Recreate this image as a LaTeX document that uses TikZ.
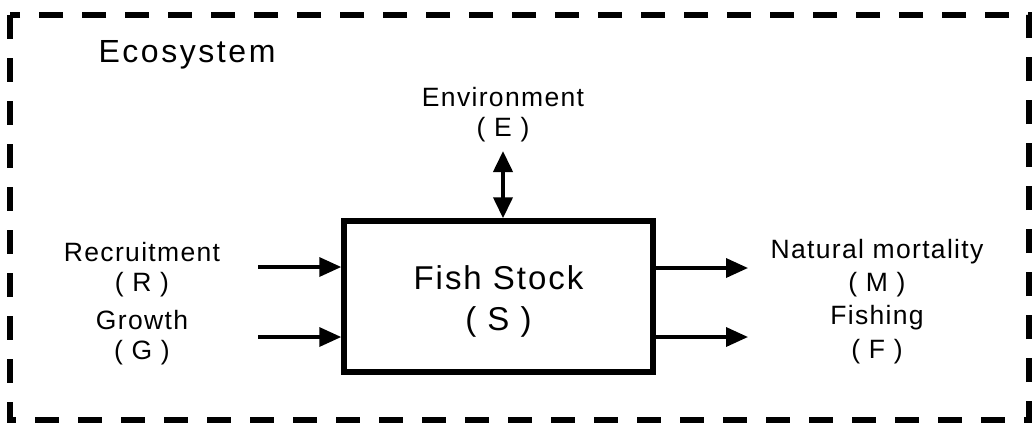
\documentclass[tikz,border=0pt]{standalone}
\usepackage{fontspec}
\setmainfont{Liberation Sans}[LetterSpace=5]
\usetikzlibrary{arrows.meta}
\tikzset{
  frame/.style={line width=5.5pt, dash pattern=on 24pt off 19pt},
  stockbox/.style={draw, line width=5.5pt, minimum width=309pt, minimum height=151pt, inner sep=0pt},
  lbl/.style={font=\fontsize{26.5}{28}\selectfont, inner sep=0pt, align=center},
  flow/.style={line width=3.5pt, -{Triangle[length=22pt,width=19pt]}},
  both/.style={line width=4pt, {Triangle[length=21pt,width=19pt]}-{Triangle[length=21pt,width=19pt]}}
}
\begin{document}
\begin{tikzpicture}[x=1pt,y=-1pt]
  \useasboundingbox (0,0) rectangle (1032,429);
  % ecosystem boundary
  \draw[frame] (10,15) rectangle (1029,420);
  \node[lbl, font=\fontsize{32}{34}\selectfont\addfontfeature{LetterSpace=8}] (eco) at (187,55) {Ecosystem};
  % central stock
  \node[stockbox] (stock) at (498.5,296.5) {};
  \node[lbl, font=\fontsize{33}{35}\selectfont\addfontfeature{LetterSpace=6}] (stxt) at (498.5,278) {Fish Stock};
  \node[lbl, font=\fontsize{33}{35}\selectfont\addfontfeature{LetterSpace=6}] (stxs) at (498.5,322) {( S )};
  % environment
  \node[lbl] (env) at (503,97) {Environment};
  \node[lbl] (enve) at (503,130) {( E )};
  \coordinate (envtip) at (503,151);
  \draw[both] (envtip) -- (envtip |- stock.north);
  % inputs
  \node[lbl] (rec) at (142,252) {Recruitment};
  \node[lbl] (recr) at (142,285) {( R )};
  \node[lbl] (gro) at (142,320) {Growth};
  \node[lbl] (grog) at (142,353) {( G )};
  \coordinate (rin) at (258,267);
  \coordinate (gin) at (258,337);
  \draw[flow] (rin) -- (rin -| stock.west);
  \draw[flow] (gin) -- (gin -| stock.west);
  % outputs
  \node[lbl] (nat) at (877,252) {Natural mortality};
  \node[lbl] (natm) at (877,285) {( M )};
  \node[lbl] (fis) at (877,318) {Fishing};
  \node[lbl] (fisf) at (877,352) {( F )};
  \coordinate (mout) at (748,268);
  \coordinate (fout) at (748,337);
  \draw[flow] (mout -| stock.east) -- (mout);
  \draw[flow] (fout -| stock.east) -- (fout);
\end{tikzpicture}
\end{document}
